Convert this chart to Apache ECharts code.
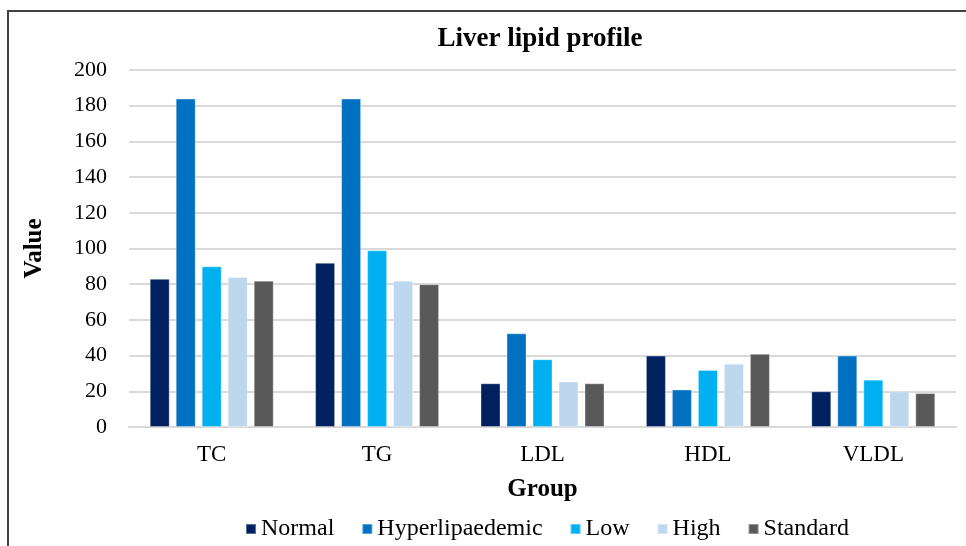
<!DOCTYPE html>
<html>
<head>
<meta charset="utf-8">
<script src="https://cdn.jsdelivr.net/npm/echarts@6/dist/echarts.min.js"></script>
<style>
  html, body { margin: 0; padding: 0; background: #fff; }
  #chart { width: 966px; height: 546px; }
</style>
</head>
<body>
<div id="chart"></div>
<script>
var categories = ['TC', 'TG', 'LDL', 'HDL', 'VLDL'];
var groups = ['Normal', 'Hyperlipaedemic', 'Low', 'High', 'Standard'];
var normal = [83, 92, 24.5, 40, 20];
var hyperlipaedemic = [184, 184, 52.5, 21, 40];
var low = [90, 99, 38, 32, 26.5];
var high = [84, 82, 25.5, 35.5, 20];
var standard = [82, 80, 24.5, 41, 19];
var colors = ['#002060', '#0070C0', '#00B0F0', '#BDD7EE', '#595959'];
var yTicks = { min: 0, max: 200, interval: 20 };

var font = 'Liberation Serif';
var values = [normal, hyperlipaedemic, low, high, standard];

var chart = echarts.init(document.getElementById('chart'));

var series = groups.map(function (name, i) {
  return {
    name: name,
    type: 'bar',
    data: values[i],
    barWidth: 20,
    barGap: '30%',
    itemStyle: {
      color: colors[i],
      borderColor: 'rgba(255,255,255,0.35)',
      borderWidth: 1
    }
  };
});

var option = {
  animation: false,
  backgroundColor: '#fff',
  textStyle: { fontFamily: font, color: '#000' },
  title: {
    text: 'Liver lipid profile',
    left: 535,
    textAlign: 'center',
    top: 21,
    textStyle: { fontFamily: font, fontWeight: 'bold', fontSize: 27, color: '#000' }
  },
  legend: {
    bottom: 0,
    left: 240,
    itemWidth: 10,
    itemHeight: 10,
    itemGap: 27,
    icon: 'rect',
    data: groups,
    textStyle: { fontFamily: font, fontSize: 24, color: '#000' }
  },
  grid: { left: 129, right: 10, top: 70, bottom: 119 },
  xAxis: {
    type: 'category',
    data: categories,
    name: 'Group',
    nameLocation: 'middle',
    nameGap: 50,
    nameTextStyle: { fontFamily: font, fontWeight: 'bold', fontSize: 25, color: '#000' },
    axisTick: { show: false },
    axisLine: { lineStyle: { color: '#d9d9d9', width: 2 } },
    axisLabel: { fontFamily: font, fontSize: 23, color: '#000', margin: 16 }
  },
  yAxis: {
    type: 'value',
    min: yTicks.min,
    max: yTicks.max,
    interval: yTicks.interval,
    name: 'Value',
    nameLocation: 'middle',
    nameGap: 82,
    nameTextStyle: { fontFamily: font, fontWeight: 'bold', fontSize: 25, color: '#000' },
    axisLine: { show: false },
    axisTick: { show: false },
    axisLabel: { fontFamily: font, fontSize: 22, color: '#000', margin: 22 },
    splitLine: { lineStyle: { color: '#d9d9d9', width: 2 } }
  },
  graphic: [
    {
      type: 'polyline',
      shape: { points: [[8, 546], [8, 11], [966, 11]] },
      style: { stroke: '#404040', lineWidth: 2, fill: null },
      silent: true
    }
  ],
  series: series
};

chart.setOption(option);
</script>
</body>
</html>
